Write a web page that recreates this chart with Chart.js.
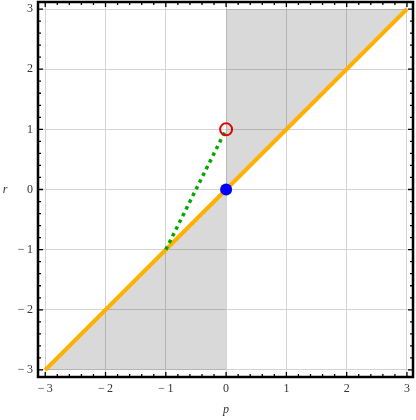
<!DOCTYPE html>
<html>
<head>
<meta charset="utf-8">
<script src="https://cdn.jsdelivr.net/npm/chart.js@4"></script>
<style>
  body { margin: 0; background: #fff; }
  canvas { display: block; }
</style>
</head>
<body>
<canvas id="chart" width="416" height="420"></canvas>
<script>
// data
const tickValues = [-3, -2, -1, 0, 1, 2, 3];
const diagP = [-3, 3];
const diagR = [-3, 3];
const lowRegionP = [-3, 0];
const lowRegionR = [-3, 0];
const highRegionP = [0, 3];
const highRegionR = [0, 3];
const segmentP = [-1, 0];
const segmentR = [-1, 1];
const openPoint = [0, 1];
const filledPoint = [0, 0];

const toPoints = (xs, ys) => xs.map((x, i) => ({ x: x, y: ys[i] }));
const labelFor = (v) => (v < 0 ? "\u2212\u2009" + Math.abs(v) : String(v));

// frame + inward ticks on all four sides, plus axis letters
const framePlugin = {
  id: "frame",
  afterDraw(chart) {
    const ctx = chart.ctx;
    const a = chart.chartArea;
    const xs = chart.scales.x;
    const ys = chart.scales.y;
    ctx.save();
    ctx.strokeStyle = "#000";
    ctx.lineWidth = 1.3;
    for (let k = -15; k <= 15; k++) {
      const v = k / 5;
      const len = k % 5 === 0 ? 5 : 3;
      const px = xs.getPixelForValue(v);
      const py = ys.getPixelForValue(v);
      ctx.beginPath();
      ctx.moveTo(px, a.bottom);
      ctx.lineTo(px, a.bottom - len);
      ctx.moveTo(px, a.top);
      ctx.lineTo(px, a.top + len);
      ctx.moveTo(a.left, py);
      ctx.lineTo(a.left + len, py);
      ctx.moveTo(a.right, py);
      ctx.lineTo(a.right - len, py);
      ctx.stroke();
    }
    ctx.lineWidth = 2.5;
    ctx.strokeRect(a.left, a.top, a.right - a.left, a.bottom - a.top);

    ctx.fillStyle = "#333";
    ctx.font = "italic 12px 'Liberation Serif'";
    ctx.textAlign = "center";
    ctx.textBaseline = "middle";
    ctx.fillText("p", xs.getPixelForValue(0), 410);
    ctx.fillText("r", 5, ys.getPixelForValue(0));
    ctx.restore();
  },
};

const axisFont = { family: "Liberation Serif", size: 12 };

new Chart(document.getElementById("chart"), {
  type: "scatter",
  data: {
    datasets: [
      {
        data: toPoints(lowRegionP, lowRegionR),
        showLine: true,
        fill: { value: -3 },
        backgroundColor: "rgba(0,0,0,0.15)",
        borderWidth: 0,
        pointRadius: 0,
        order: 6,
      },
      {
        data: toPoints(highRegionP, highRegionR),
        showLine: true,
        fill: { value: 3 },
        backgroundColor: "rgba(0,0,0,0.15)",
        borderWidth: 0,
        pointRadius: 0,
        order: 5,
      },
      {
        data: toPoints(diagP, diagR),
        showLine: true,
        borderColor: "#ffb000",
        borderWidth: 4,
        pointRadius: 0,
        order: 4,
      },
      {
        data: toPoints(segmentP, segmentR),
        showLine: true,
        borderColor: "#00a800",
        borderWidth: 3.5,
        borderDash: [3.5, 4],
        pointRadius: 0,
        order: 3,
      },
      {
        data: [{ x: filledPoint[0], y: filledPoint[1] }],
        pointRadius: 6,
        pointBackgroundColor: "#0000ff",
        pointBorderWidth: 0,
        order: 2,
      },
      {
        data: [{ x: openPoint[0], y: openPoint[1] }],
        pointRadius: 6,
        pointBackgroundColor: "rgba(0,0,0,0)",
        pointBorderColor: "#e00000",
        pointBorderWidth: 2,
        order: 1,
      },
    ],
  },
  options: {
    responsive: false,
    animation: false,
    layout: { autoPadding: false, padding: { top: 2, right: 3, left: 0, bottom: 0 } },
    plugins: {
      legend: { display: false },
      tooltip: { enabled: false },
    },
    scales: {
      x: {
        type: "linear",
        min: -3.12,
        max: 3.1,
        afterBuildTicks: (s) => {
          s.ticks = tickValues.map((v) => ({ value: v }));
        },
        afterFit: (s) => {
          s.height = 43;
          s.paddingLeft = 0;
          s.paddingRight = 0;
        },
        ticks: {
          font: axisFont,
          color: "#333",
          padding: 5,
          maxRotation: 0,
          callback: (v) => labelFor(v),
        },
        grid: { color: "#d4d4d4", lineWidth: 1, drawTicks: false },
        border: { display: false },
      },
      y: {
        type: "linear",
        min: -3.117,
        max: 3.117,
        afterBuildTicks: (s) => {
          s.ticks = tickValues.map((v) => ({ value: v }));
        },
        afterFit: (s) => {
          s.width = 38;
          s.paddingTop = 0;
          s.paddingBottom = 0;
        },
        ticks: {
          font: axisFont,
          color: "#333",
          padding: 5,
          callback: (v) => labelFor(v),
        },
        grid: { color: "#d4d4d4", lineWidth: 1, drawTicks: false },
        border: { display: false },
      },
    },
  },
  plugins: [framePlugin],
});
</script>
</body>
</html>
